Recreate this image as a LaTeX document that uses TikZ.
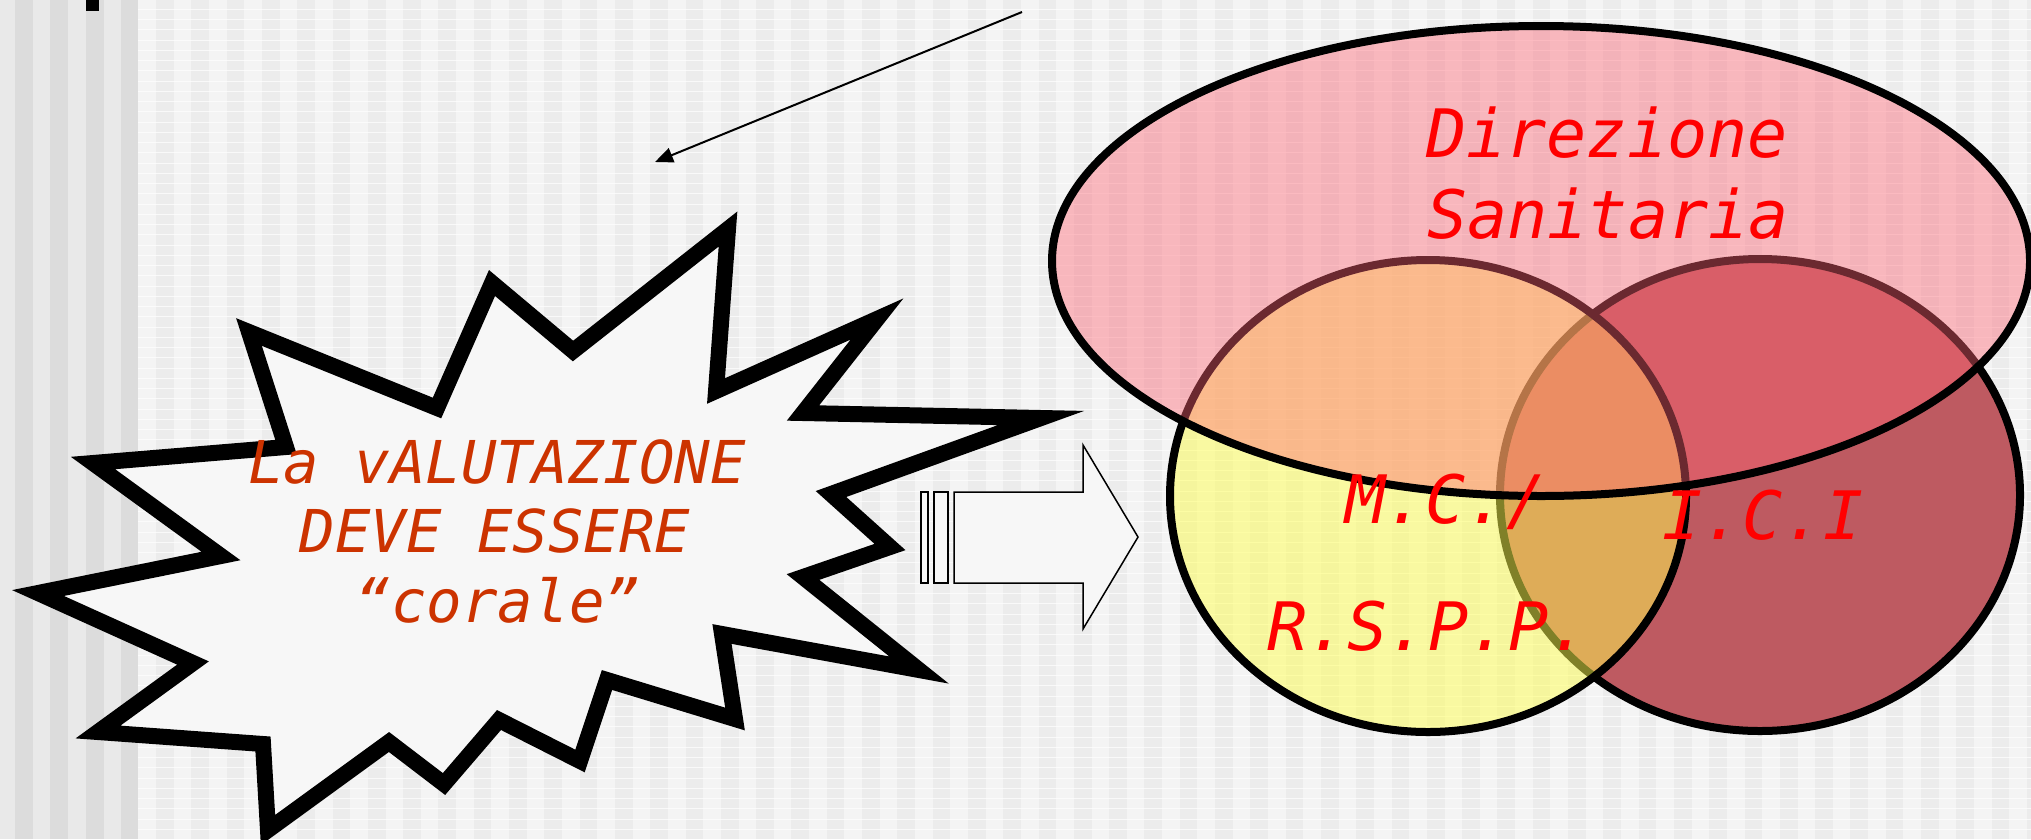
\documentclass[tikz,border=0pt]{standalone}
\usepackage{fontspec}
\usetikzlibrary{arrows.meta}
\newfontfamily\slidemono{DejaVu Sans Mono}
\definecolor{stripeA}{HTML}{E9E9E9}
\definecolor{stripeB}{HTML}{DCDCDC}
\definecolor{paperA}{HTML}{F4F4F4}
\definecolor{paperB}{HTML}{ECECEC}
\definecolor{burnt}{RGB}{204,51,0}
\definecolor{dusk}{RGB}{190,90,97}
\definecolor{lemon}{RGB}{255,255,80}
\definecolor{rose}{RGB}{255,100,115}
\tikzset{
  burst/.style={line width=1.6mm,line join=miter,fill=white!97!black},
  ring/.style={line width=.8mm},
  pointer/.style={line width=.2mm,-{Triangle[length=1.8mm,width=1.5mm]}},
  fatarrow/.style={line width=.15mm,fill=white!97!black},
  txtorange/.style={anchor=base,inner sep=0pt,text=burnt,font=\slidemono\itshape\fontsize{16.8}{20}\selectfont},
  txtred/.style={anchor=base,inner sep=0pt,text=red,font=\slidemono\itshape\fontsize{19}{23}\selectfont},
}

\begin{document}
\begin{tikzpicture}[x=.1mm,y=-.1mm,line width=.5pt]
\path[use as bounding box] (0,0) rectangle (2031,839);
% background
\fill[stripeA] (0,0) rectangle (138,839);
\foreach \x in {15,50,86,121} \fill[stripeB] (\x,0) rectangle ++(17.5,839);
\fill[paperA] (138,0) rectangle (2031,839);
\foreach \k in {0,...,53} \fill[paperB] ({156+35.3*\k},0) rectangle ++(17.7,839);
\foreach \k in {0,...,81} \draw[white,opacity=.7,line width=.1mm] (138,{9.3+10.25*\k}) -- (2031,{9.3+10.25*\k});
\fill[black] (86,0) rectangle (99,11);
% pointer
\coordinate (ptrTail) at (1022,12);
\coordinate (ptrHead) at (655,162);
\draw[pointer] (ptrTail) -- (ptrHead);
% burst
\draw[burst] (249,332) -- (437,408) -- (492,283) -- (573,351) -- (728,229) -- (716,391) -- (877,319) -- (803,413) -- (1041,418) -- (831,494) -- (890,547) -- (803,577) -- (919,670) -- (722,634) -- (735,719) -- (607,680) -- (580,761) -- (499,720) -- (444,784) -- (389,742) -- (268,830) -- (263,744) -- (98,732) -- (193,663) -- (38,593) -- (221,556) -- (93,463) -- (286,447) -- cycle;
\node[txtorange] (evalA) at (497,483) {La vALUTAZIONE};
\node[txtorange] (evalB) at (495,552) {DEVE ESSERE};
\node[txtorange] (evalC) at (498,622) {“corale”};
% striped arrow
\draw[fatarrow] (921,492) rectangle (928,583);
\draw[fatarrow] (934,492) rectangle (948,583);
\draw[fatarrow] (954,492) -- (1083,492) -- (1083,445) -- (1138,537) -- (1083,629) -- (1083,583) -- (954,583) -- cycle;
% sets
\draw[ring,fill=dusk] (1760,495) ellipse [x radius=26mm,y radius=23.6mm];
\draw[ring,fill=lemon,fill opacity=.5] (1428,496) ellipse [x radius=25.8mm,y radius=23.6mm];
\draw[ring,fill=rose,fill opacity=.42] (1541,261) ellipse [x radius=48.9mm,y radius=23.5mm];
\node[txtred] (dirA) at (1607,157) {Direzione};
\node[txtred] (dirB) at (1608,238) {Sanitaria};
\node[txtred] (mc) at (1446,523) {M.C./};
\node[txtred] (ici) at (1763,539) {I.C.I};
\node[txtred] (rspp) at (1428,650) {R.S.P.P.};
\end{tikzpicture}
\end{document}
